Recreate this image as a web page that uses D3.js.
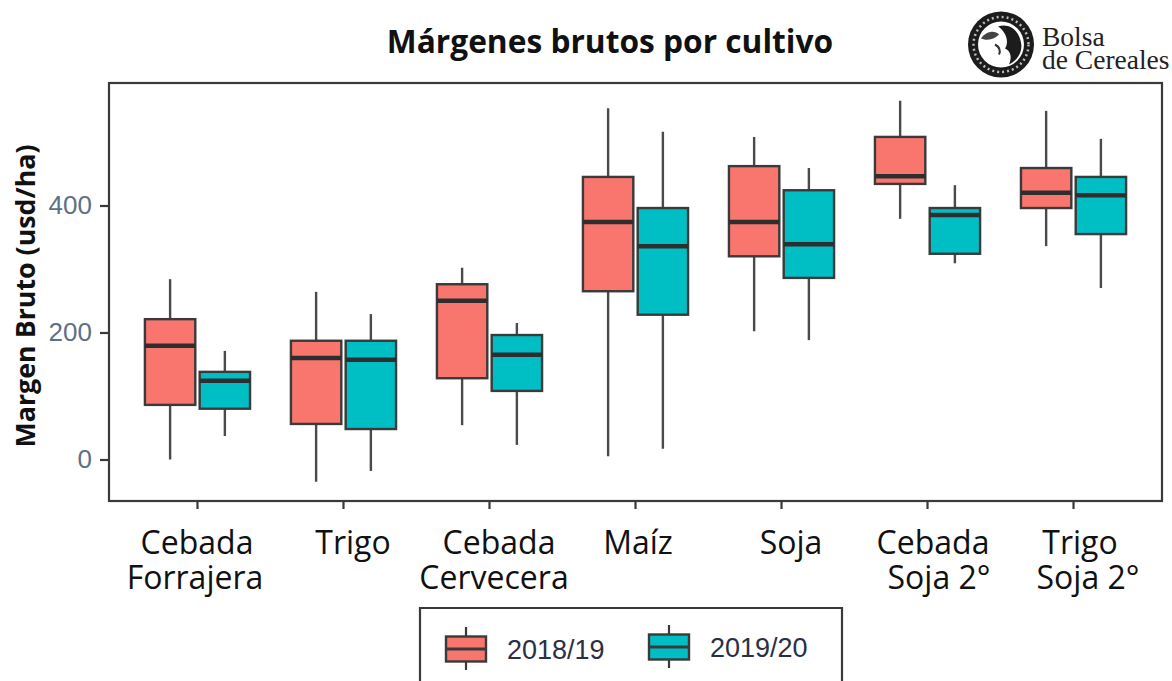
<!DOCTYPE html>
<html>
<head>
<meta charset="utf-8">
<script src="https://cdn.jsdelivr.net/npm/d3@7"></script>
<style>
  html, body { margin: 0; background: #fff; }
  svg { display: block; font-family: "Open Sans", "Noto Sans", sans-serif; }
</style>
</head>
<body>
<div id="chart"></div>
<script>
const categories = ['Cebada Forrajera', 'Trigo', 'Cebada Cervecera', 'Maíz', 'Soja', 'Cebada Soja 2°', 'Trigo Soja 2°'];
const seasons = ['2018/19', '2019/20'];
const seasonColors = ['#F8766D', '#00BFC4'];

// [whisker low, q1, median, q3, whisker high], one row per category
const stats2018 = [
  [0, 86, 179, 221, 284],
  [-35, 56, 160, 187, 264],
  [54, 128, 250, 276, 302],
  [5, 265, 374, 445, 553],
  [202, 320, 374, 462, 508],
  [379, 434, 446, 508, 565],
  [336, 396, 420, 459, 549]
];
const stats2019 = [
  [37, 80, 124, 138, 171],
  [-18, 48, 157, 187, 229],
  [23, 108, 165, 196, 215],
  [17, 228, 336, 396, 516],
  [188, 286, 339, 424, 459],
  [309, 324, 385, 396, 432],
  [270, 355, 416, 445, 505]
];

const yTicks = [0, 200, 400];
const xLabelLines = [['Cebada', 'Forrajera'], ['Trigo'], ['Cebada', 'Cervecera'], ['Maíz'], ['Soja'], ['Cebada', 'Soja 2°'], ['Trigo', 'Soja 2°']];
// the labels were text boxes in the original, so every line has its own centre
const xLabelCenters = [[197, 195], [353], [499, 494], [638], [791], [933, 939], [1080, 1088]];

const width = 1172, height = 681;
const panel = { left: 109, right: 1162, top: 83, bottom: 501 };
const ink = '#3a3a3a';

const svg = d3.select('#chart').append('svg').attr('width', width).attr('height', height);

const y = d3.scaleLinear().domain([0, 400]).range([459.5, 205.5]);
const x = d3.scaleBand().domain(categories).range([panel.left, panel.right]).paddingInner(0.28).paddingOuter(0.246);
const dodge = d3.scaleBand().domain(seasons).range([0, x.bandwidth()]).paddingInner(0.08);

// title
svg.append('text').attr('x', 610).attr('y', 53).attr('text-anchor', 'middle')
  .attr('font-size', 31.7).attr('font-weight', 700).attr('fill', '#111').text('Márgenes brutos por cultivo');

// logo
const logo = svg.append('g').attr('transform', 'translate(1001,44.5)');
logo.append('circle').attr('r', 33).attr('fill', '#1c1c1c');
logo.append('circle').attr('r', 27.5).attr('fill', 'none').attr('stroke', '#bbb').attr('stroke-width', 2.5).attr('stroke-dasharray', '2 3');
logo.append('circle').attr('r', 23).attr('fill', '#fff');
logo.append('path').attr('d', 'M-3,-18 C8,-22 18,-14 20,-2 C22,8 16,16 8,20 C12,10 8,6 4,4 C8,-2 6,-12 -3,-18 Z').attr('fill', '#1c1c1c');
logo.append('path').attr('d', 'M-20,-6 C-14,-14 -6,-14 -2,-10 C-6,-6 -12,-3 -20,-6 Z').attr('fill', '#444');
logo.append('path').attr('d', 'M-6,0 C-2,2 0,6 -2,10').attr('fill', 'none').attr('stroke', '#333').attr('stroke-width', 2);
const logoText = svg.append('g').style('font-family', '"Liberation Serif", serif').style('font-size', '27.5px').attr('fill', '#222');
logoText.append('text').attr('x', 1042).attr('y', 46).text('Bolsa');
logoText.append('text').attr('x', 1042).attr('y', 69).text('de Cereales');

// y axis
svg.append('g').attr('transform', `translate(${panel.left},0)`)
  .call(d3.axisLeft(y).tickValues(yTicks).tickSize(9).tickPadding(8))
  .call(g => g.select('.domain').remove())
  .call(g => g.selectAll('line').attr('stroke', ink).attr('stroke-width', 2.2))
  .call(g => g.selectAll('text').style('font-family', '"Liberation Sans", sans-serif').style('font-size', '26px').attr('fill', '#5f6f86'));

svg.append('text').attr('transform', 'translate(35,296) rotate(-90)').attr('text-anchor', 'middle')
  .attr('font-size', 26.8).attr('font-weight', 700).attr('fill', '#111').text('Margen Bruto (usd/ha)');

// x axis ticks
svg.append('g').attr('transform', `translate(0,${panel.bottom})`)
  .call(d3.axisBottom(x).tickSize(8).tickFormat(''))
  .call(g => g.select('.domain').remove())
  .call(g => g.selectAll('line').attr('stroke', ink).attr('stroke-width', 2.2));

// x labels
categories.forEach((c, i) => {
  const label = svg.append('text').attr('y', 554).attr('text-anchor', 'middle').attr('font-size', 32).attr('fill', '#111');
  xLabelLines[i].forEach((line, j) => {
    label.append('tspan').attr('x', xLabelCenters[i][j]).attr('dy', j ? 35 : 0).text(line);
  });
});

// boxes
function drawBoxes(stats, season, color) {
  const boxes = svg.append('g').selectAll('g').data(stats).join('g')
    .attr('transform', (d, i) => `translate(${x(categories[i]) + dodge(season)},0)`);
  const w = dodge.bandwidth();
  boxes.append('line').attr('x1', w / 2).attr('x2', w / 2).attr('y1', d => y(d[0])).attr('y2', d => y(d[4]))
    .attr('stroke', '#4a4a4a').attr('stroke-width', 2.4);
  boxes.append('rect').attr('width', w).attr('y', d => y(d[3])).attr('height', d => y(d[1]) - y(d[3]))
    .attr('fill', color).attr('stroke', ink).attr('stroke-width', 2.4);
  boxes.append('line').attr('x2', w).attr('y1', d => y(d[2])).attr('y2', d => y(d[2]))
    .attr('stroke', '#2e2e2e').attr('stroke-width', 4.5);
}
drawBoxes(stats2018, seasons[0], seasonColors[0]);
drawBoxes(stats2019, seasons[1], seasonColors[1]);

// panel border on top
svg.append('rect').attr('x', panel.left).attr('y', panel.top)
  .attr('width', panel.right - panel.left).attr('height', panel.bottom - panel.top)
  .attr('fill', 'none').attr('stroke', ink).attr('stroke-width', 2.2);

// legend
svg.append('path').attr('d', 'M420,681 V608 H842 V681').attr('fill', 'none').attr('stroke', ink).attr('stroke-width', 2.2);
const legendX = [466, 669], legendY = [649, 647];
seasons.forEach((s, i) => {
  const g = svg.append('g').attr('transform', `translate(${legendX[i]},${legendY[i]})`);
  g.append('line').attr('y1', -22).attr('y2', 21).attr('stroke', ink).attr('stroke-width', 2.2);
  g.append('rect').attr('x', -20).attr('y', -12.5).attr('width', 40).attr('height', 25)
    .attr('fill', seasonColors[i]).attr('stroke', ink).attr('stroke-width', 2.4);
  g.append('line').attr('x1', -20).attr('x2', 20).attr('stroke', ink).attr('stroke-width', 3);
  g.append('text').attr('x', 41).attr('y', 10).style('font-family', '"Liberation Sans", sans-serif').style('font-size', '27px')
    .attr('fill', '#2b2f45').text(s);
});
</script>
</body>
</html>
